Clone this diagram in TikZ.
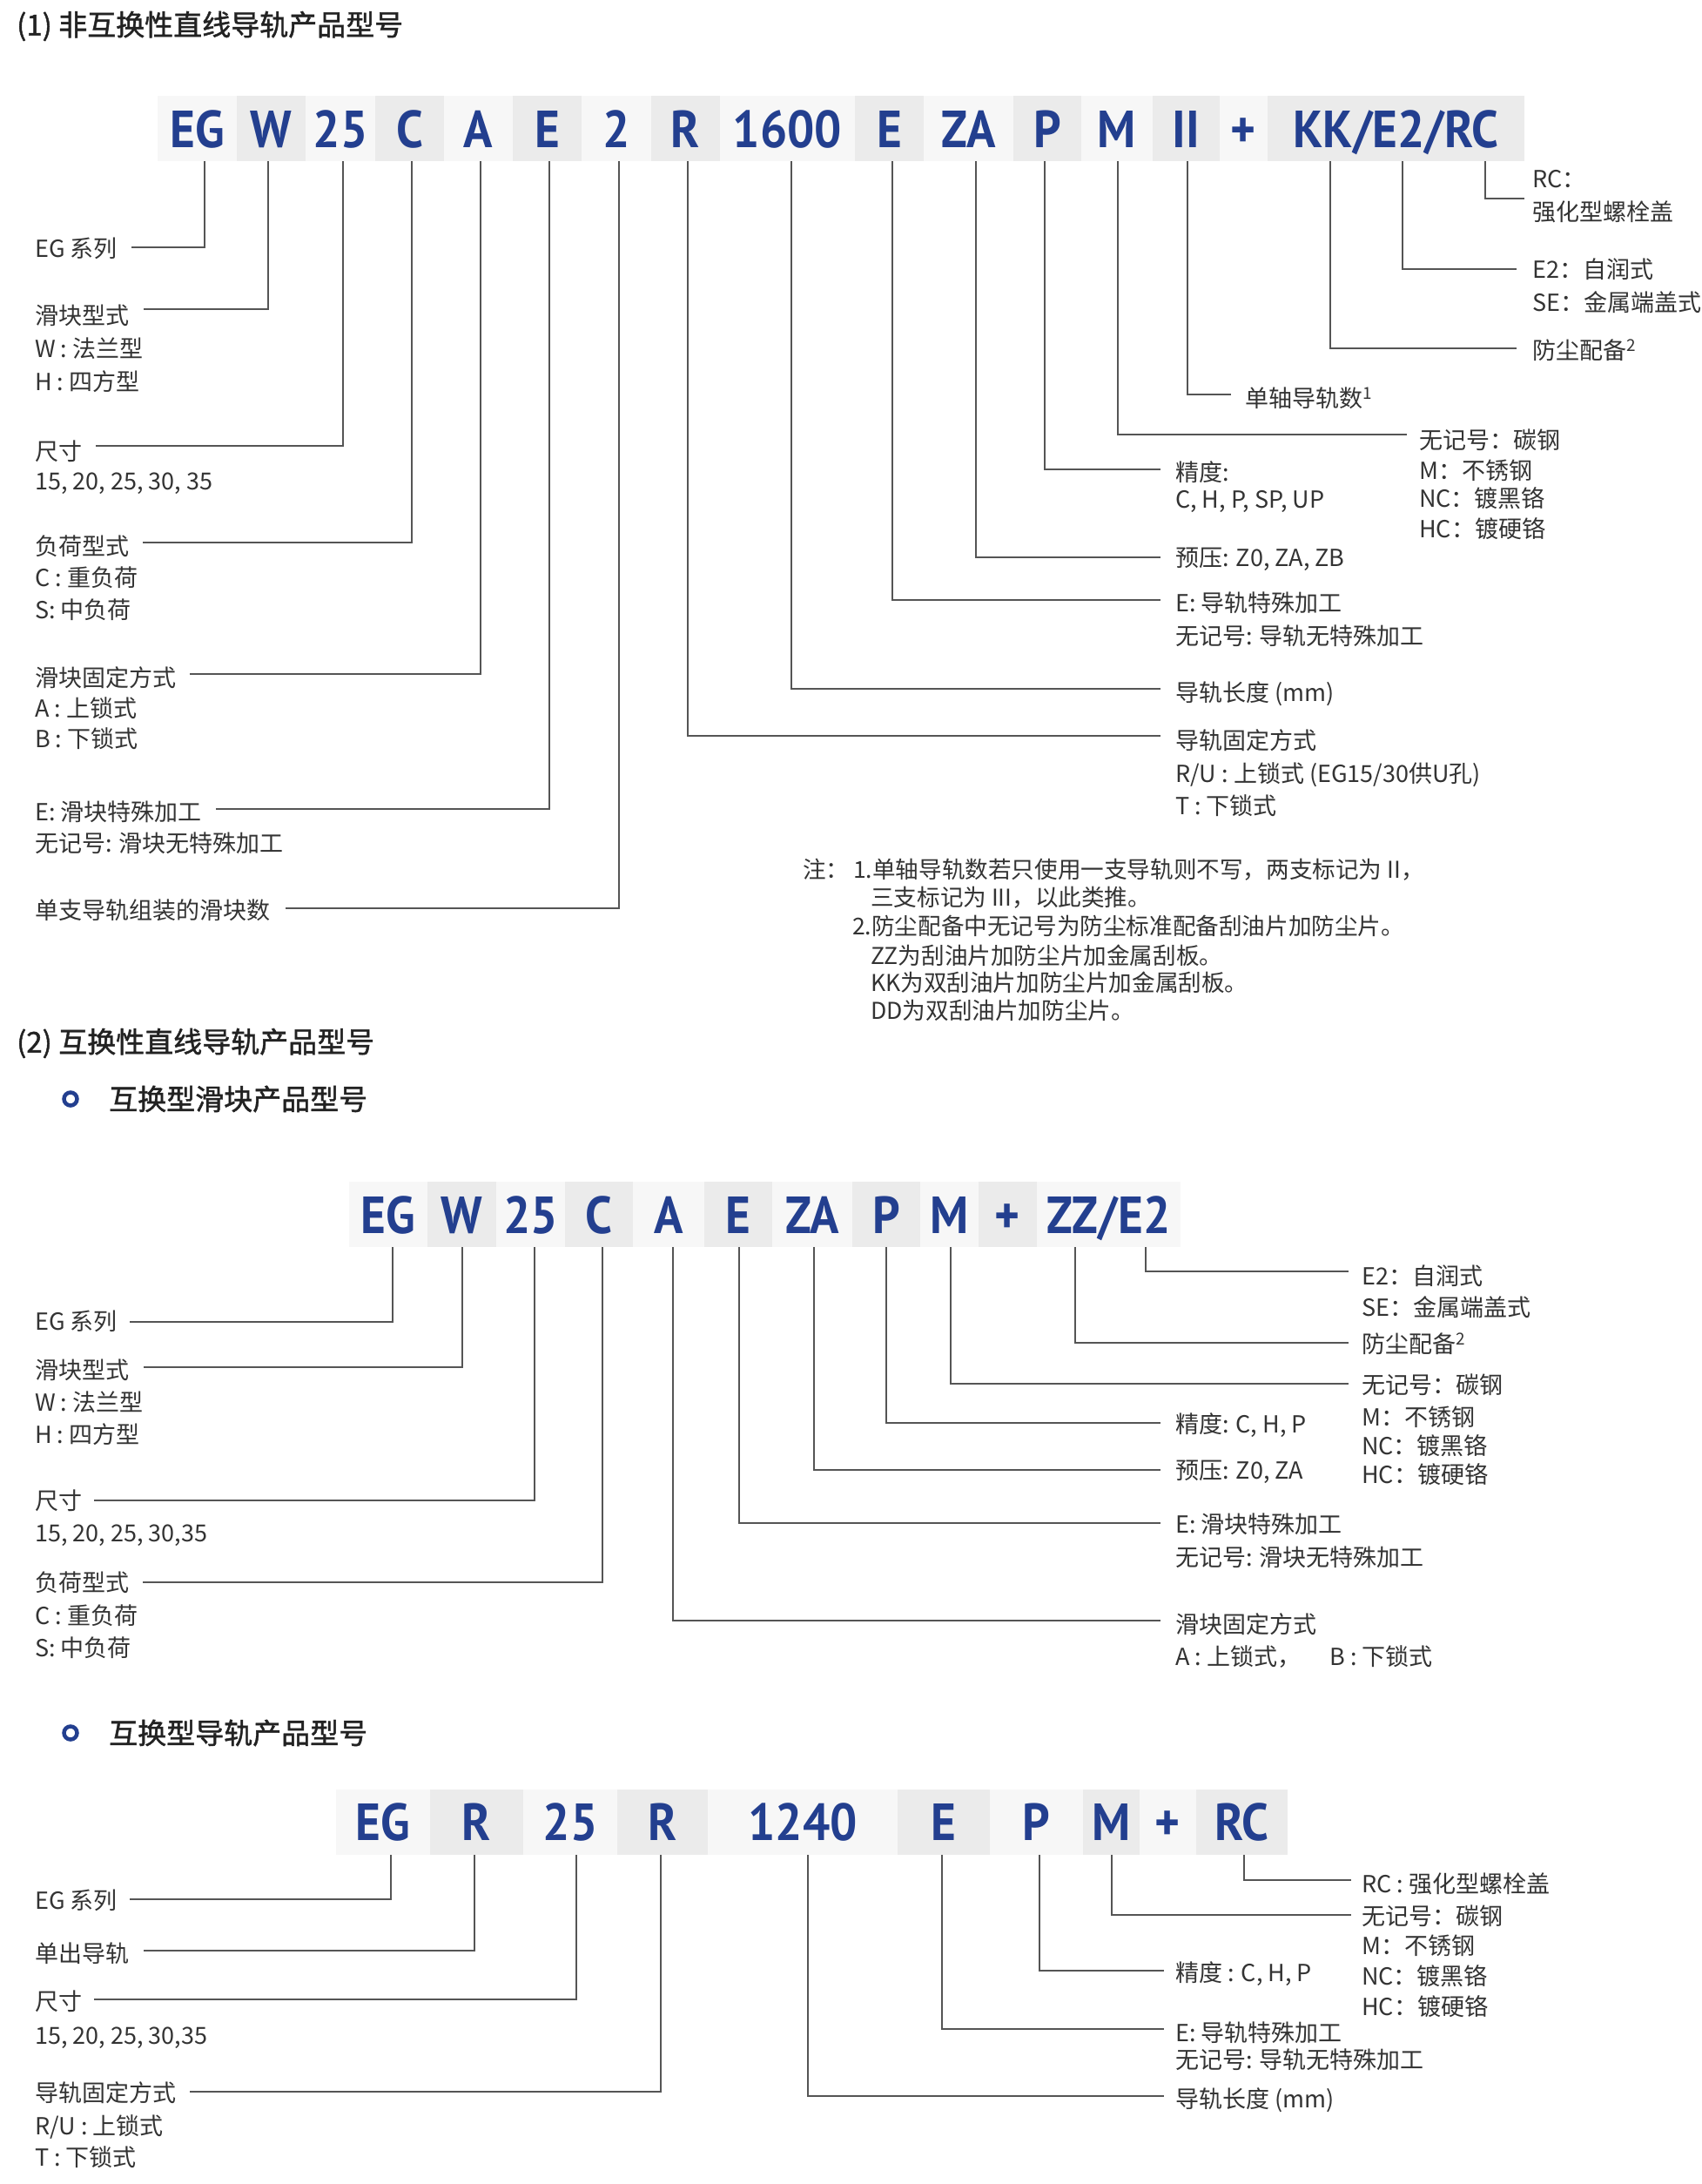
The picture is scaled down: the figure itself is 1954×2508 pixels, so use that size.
\documentclass[tikz,border=0pt]{standalone}
\usepackage{fontspec}
\setmainfont{Noto Sans CJK SC}
\newfontfamily\codefont{PT Sans}[FakeStretch=0.92]
\newfontfamily\headfam{Noto Sans CJK SC}[FakeBold=1.3]
\definecolor{codeblue}{HTML}{233F8F}
\definecolor{txt}{HTML}{333333}
\definecolor{hd}{HTML}{222222}
\definecolor{ln}{HTML}{555555}
\definecolor{boxl}{HTML}{F7F7F7}
\definecolor{boxg}{HTML}{EBEBEB}
\newcommand\labfont{\fontsize{27}{32}\selectfont}
\newcommand\notefont{\fontsize{26.6}{32}\selectfont}
\newcommand\headfont{\headfam\fontsize{33}{38}\selectfont}
\newcommand\cfont{\codefont\bfseries\fontsize{60}{64}\selectfont}
\tikzset{
  cbox/.style={inner sep=0pt, minimum height=75pt, text height=43pt, text depth=0pt, font=\cfont, text=codeblue, draw=none},
  lab/.style={anchor=west, inner sep=0pt, text height=24pt, text depth=3pt, font=\labfont, text=txt},
  note/.style={anchor=west, inner sep=0pt, text height=23pt, text depth=3pt, font=\notefont, text=txt},
  head/.style={anchor=west, inner sep=0pt, font=\headfont, text=hd},
  conn/.style={draw=ln, line width=1.6pt},
  bullet/.style={circle, draw=codeblue, line width=4.5pt, minimum size=15pt, inner sep=0pt}
}
\begin{document}
\begin{tikzpicture}[x=1pt,y=-1pt]
\useasboundingbox[fill=white] (0,0) rectangle (1954,2508);

% ================= Section 1 =================
\node[head] (h1) at (19,30) {(1) 非互换性直线导轨产品型号};

\foreach \n/\xa/\xb/\t/\c in {a1/181/272/EG/boxl, a2/272/351/W/boxg, a3/351/431/25/boxl, a4/431/510/C/boxg,
  a5/510/589/A/boxl, a6/589/668/E/boxg, a7/668/748/2/boxl, a8/748/827/R/boxg, a9/827/982/1600/boxl,
  a10/982/1061/E/boxg, a11/1061/1164/ZA/boxl, a12/1164/1242/P/boxg, a13/1242/1324/M/boxl,
  a14/1324/1401/II/boxg, a15/1401/1456/+/boxl, a16/1456/1751/{KK/E2/RC}/boxg}
  \node[cbox, fill=\c, minimum width=\xb-\xa] (\n) at ({(\xa+\xb)/2},147.5) {\t};

\foreach \n/\x in {p1/235, p2/308, p3/394, p4/473, p5/552, p6/631, p7/711, p8/790, p9/909,
  p10/1025, p11/1121, p12/1200, p13/1284, p14/1364, pKK/1528, pE2/1611, pRC/1706}
  \coordinate (\n) at (\x,185);

% left labels
\node[lab] (l1) at (40,285) {EG 系列};
\node[lab] (l2) at (40,362) {滑块型式};
\node[lab] (l2a) at (40,400) {W : 法兰型};
\node[lab] (l2b) at (40,438) {H : 四方型};
\node[lab] (l3) at (40,518) {尺寸};
\node[lab] (l3a) at (40,552) {15, 20, 25, 30, 35};
\node[lab] (l4) at (40,627) {负荷型式};
\node[lab] (l4a) at (40,663) {C : 重负荷};
\node[lab] (l4b) at (40,700) {S: 中负荷};
\node[lab] (l5) at (40,778) {滑块固定方式};
\node[lab] (l5a) at (40,813) {A : 上锁式};
\node[lab] (l5b) at (40,848) {B : 下锁式};
\node[lab] (l6) at (40,932) {E: 滑块特殊加工};
\node[lab] (l6a) at (40,968) {无记号: 滑块无特殊加工};
\node[lab] (l7) at (40,1045) {单支导轨组装的滑块数};

% right labels
\node[lab] (r1) at (1350,542) {精度:};
\node[lab] (r1a) at (1350,573) {C, H, P, SP, UP};
\node[lab] (r2) at (1350,640) {预压: Z0, ZA, ZB};
\node[lab] (r3) at (1350,692) {E: 导轨特殊加工};
\node[lab] (r3a) at (1350,730) {无记号: 导轨无特殊加工};
\node[lab] (r4) at (1350,795) {导轨长度 (mm)};
\node[lab] (r5) at (1350,850) {导轨固定方式};
\node[lab] (r5a) at (1350,888) {R/U : 上锁式 (EG15/30供U孔)};
\node[lab] (r5b) at (1350,925) {T : 下锁式};

\node[lab] (m1) at (1630,505) {无记号：碳钢};
\node[lab] (m2) at (1630,540) {M：不锈钢};
\node[lab] (m3) at (1630,572) {NC：镀黑铬};
\node[lab] (m4) at (1630,607) {HC：镀硬铬};
\node[lab] (u1) at (1430,457) {单轴导轨数\textsuperscript{1}};

\node[lab] (t1) at (1760,205) {RC：};
\node[lab] (t1a) at (1760,243) {强化型螺栓盖};
\node[lab] (t2) at (1760,309) {E2：自润式};
\node[lab] (t2a) at (1760,347) {SE：金属端盖式};
\node[lab] (t3) at (1760,402) {防尘配备\textsuperscript{2}};

% connectors section 1
\draw[conn] (p1) |- ([xshift=16pt,yshift=1pt]l1.east);
\draw[conn] (p2) |- ([xshift=17pt,yshift=7pt]l2.east);
\draw[conn] (p3) |- ([xshift=16pt,yshift=6pt]l3.east);
\draw[conn] (p4) |- ([xshift=16pt,yshift=4pt]l4.east);
\draw[conn] (p5) |- ([xshift=16pt,yshift=4pt]l5.east);
\draw[conn] (p6) |- ([xshift=16pt,yshift=3pt]l6.east);
\draw[conn] (p7) |- ([xshift=18pt,yshift=2pt]l7.east);
\draw[conn] (p8) |- ([xshift=-17pt,yshift=5pt]r5.west);
\draw[conn] (p9) |- ([xshift=-17pt,yshift=4pt]r4.west);
\draw[conn] (p10) |- ([xshift=-17pt,yshift=3pt]r3.west);
\draw[conn] (p11) |- ([xshift=-17pt,yshift=0pt]r2.west);
\draw[conn] (p12) |- ([xshift=-17pt,yshift=3pt]r1.west);
\draw[conn] (p13) |- ([xshift=-14pt,yshift=6pt]m1.west);
\draw[conn] (p14) |- ([xshift=-16pt,yshift=4pt]u1.west);
\draw[conn] (pKK) |- ([xshift=-18pt,yshift=2pt]t3.west);
\draw[conn] (pE2) |- ([xshift=-18pt,yshift=0pt]t2.west);
\draw[conn] (pRC) |- ([xshift=-9pt,yshift=-23pt]t1.west);

% notes
\node[note] (n0) at (922,998) {注：};
\node[note] (n1) at (980,998) {1.单轴导轨数若只使用一支导轨则不写，两支标记为 II，};
\node[note] (n2) at (1000,1030) {三支标记为 III，以此类推。};
\node[note] (n3) at (979,1063) {2.防尘配备中无记号为防尘标准配备刮油片加防尘片。};
\node[note] (n4) at (1000,1097) {ZZ为刮油片加防尘片加金属刮板。};
\node[note] (n5) at (1000,1128) {KK为双刮油片加防尘片加金属刮板。};
\node[note] (n6) at (1000,1160) {DD为双刮油片加防尘片。};

% ================= Section 2 =================
\node[head] (h2) at (19,1198) {(2) 互换性直线导轨产品型号};
\node[bullet] (bu1) at (81,1262) {};
\node[head] (s2) at (125,1262) {互换型滑块产品型号};

\foreach \n/\xa/\xb/\t/\c in {b1/401/491/EG/boxl, b2/491/570/W/boxg, b3/570/649/25/boxl, b4/649/727/C/boxg,
  b5/727/809/A/boxl, b6/809/887/E/boxg, b7/887/979/ZA/boxl, b8/979/1057/P/boxg, b9/1057/1124/M/boxl,
  b10/1124/1191/+/boxg, b11/1191/1356/{ZZ/E2}/boxl}
  \node[cbox, fill=\c, minimum width=\xb-\xa] (\n) at ({(\xa+\xb)/2},1394.5) {\t};

\foreach \n/\x in {q1/451, q2/531, q3/614, q4/692, q5/773, q6/849, q7/935, q8/1018, q9/1092, qZZ/1235, qE2/1316}
  \coordinate (\n) at (\x,1432);

\node[lab] (v1) at (40,1517) {EG 系列};
\node[lab] (v2) at (40,1573) {滑块型式};
\node[lab] (v2a) at (40,1610) {W : 法兰型};
\node[lab] (v2b) at (40,1647) {H : 四方型};
\node[lab] (v3) at (40,1723) {尺寸};
\node[lab] (v3a) at (40,1760) {15, 20, 25, 30,35};
\node[lab] (v4) at (40,1817) {负荷型式};
\node[lab] (v4a) at (40,1855) {C : 重负荷};
\node[lab] (v4b) at (40,1892) {S: 中负荷};

\node[lab] (w1) at (1350,1635) {精度: C, H, P};
\node[lab] (w2) at (1350,1688) {预压: Z0, ZA};
\node[lab] (w3) at (1350,1750) {E: 滑块特殊加工};
\node[lab] (w3a) at (1350,1788) {无记号: 滑块无特殊加工};
\node[lab] (w4) at (1350,1865) {滑块固定方式};
\node[lab] (w4a) at (1350,1902) {A : 上锁式，};
\node[lab] (w4b) at (1527,1902) {B : 下锁式};

\node[lab] (x1) at (1564,1465) {E2：自润式};
\node[lab] (x1a) at (1564,1501) {SE：金属端盖式};
\node[lab] (x2) at (1564,1543) {防尘配备\textsuperscript{2}};
\node[lab] (x3) at (1564,1590) {无记号：碳钢};
\node[lab] (x3a) at (1564,1627) {M：不锈钢};
\node[lab] (x3b) at (1564,1660) {NC：镀黑铬};
\node[lab] (x3c) at (1564,1693) {HC：镀硬铬};

\draw[conn] (q1) |- ([xshift=14pt,yshift=-1pt]v1.east);
\draw[conn] (q2) |- ([xshift=17pt,yshift=3pt]v2.east);
\draw[conn] (q3) |- ([xshift=14pt,yshift=0pt]v3.east);
\draw[conn] (q4) |- ([xshift=16pt,yshift=0pt]v4.east);
\draw[conn] (q5) |- ([xshift=-17pt,yshift=4pt]w4.west);
\draw[conn] (q6) |- ([xshift=-17pt,yshift=1pt]w3.west);
\draw[conn] (q7) |- ([xshift=-17pt,yshift=0pt]w2.west);
\draw[conn] (q8) |- ([xshift=-17pt,yshift=1pt]w1.west);
\draw[conn] (q9) |- ([xshift=-15pt,yshift=1pt]x3.west);
\draw[conn] (qZZ) |- ([xshift=-15pt,yshift=1pt]x2.west);
\draw[conn] (qE2) |- ([xshift=-15pt,yshift=5pt]x1.west);

% ================= Section 3 =================
\node[bullet] (bu2) at (81,1990) {};
\node[head] (s3) at (125,1990) {互换型导轨产品型号};

\foreach \n/\xa/\xb/\t/\c in {c1/386/494/EG/boxl, c2/494/601/R/boxg, c3/601/709/25/boxl, c4/709/813/R/boxg,
  c5/813/1031/1240/boxl, c6/1031/1137/E/boxg, c7/1137/1244/P/boxl, c8/1244/1309/M/boxg,
  c9/1309/1374/+/boxl, c10/1374/1479/RC/boxg}
  \node[cbox, fill=\c, minimum width=\xb-\xa] (\n) at ({(\xa+\xb)/2},2092) {\t};

\foreach \n/\x in {o1/449, o2/545, o3/662, o4/759, o5/928, o6/1082, o7/1194, o8/1277, o9/1429}
  \coordinate (\n) at (\x,2130);

\node[lab] (g1) at (40,2182) {EG 系列};
\node[lab] (g2) at (40,2243) {单出导轨};
\node[lab] (g3) at (40,2298) {尺寸};
\node[lab] (g3a) at (40,2337) {15, 20, 25, 30,35};
\node[lab] (g4) at (40,2403) {导轨固定方式};
\node[lab] (g4a) at (40,2441) {R/U : 上锁式};
\node[lab] (g4b) at (40,2477) {T : 下锁式};

\node[lab] (k1) at (1350,2265) {精度 : C, H, P};
\node[lab] (k2) at (1350,2334) {E: 导轨特殊加工};
\node[lab] (k2a) at (1350,2365) {无记号: 导轨无特殊加工};
\node[lab] (k3) at (1350,2410) {导轨长度 (mm)};

\node[lab] (j1) at (1564,2163) {RC : 强化型螺栓盖};
\node[lab] (j2) at (1564,2200) {无记号：碳钢};
\node[lab] (j2a) at (1564,2234) {M：不锈钢};
\node[lab] (j2b) at (1564,2269) {NC：镀黑铬};
\node[lab] (j2c) at (1564,2304) {HC：镀硬铬};

\draw[conn] (o1) |- ([xshift=14pt,yshift=1pt]g1.east);
\draw[conn] (o2) |- ([xshift=17pt,yshift=3pt]g2.east);
\draw[conn] (o3) |- ([xshift=14pt,yshift=2pt]g3.east);
\draw[conn] (o4) |- ([xshift=16pt,yshift=1pt]g4.east);
\draw[conn] (o5) |- ([xshift=-13pt,yshift=3pt]k3.west);
\draw[conn] (o6) |- ([xshift=-13pt,yshift=4pt]k2.west);
\draw[conn] (o7) |- ([xshift=-13pt,yshift=2pt]k1.west);
\draw[conn] (o8) |- ([xshift=-12pt,yshift=1pt]j2.west);
\draw[conn] (o9) |- ([xshift=-12pt,yshift=4pt]j1.west);
\end{tikzpicture}
\end{document}
